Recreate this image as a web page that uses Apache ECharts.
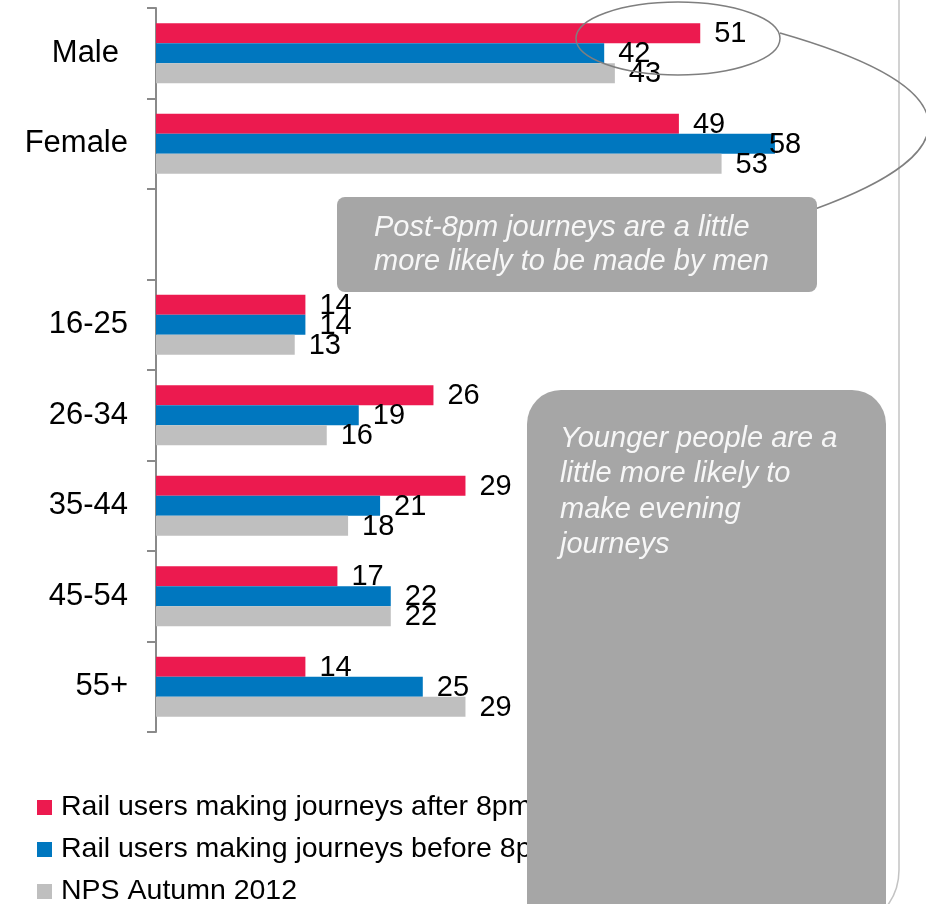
<!DOCTYPE html>
<html>
<head>
<meta charset="utf-8">
<script src="https://cdn.jsdelivr.net/npm/echarts@6/dist/echarts.min.js"></script>
<style>
  html, body { margin: 0; padding: 0; background: #ffffff; }
  #chart { width: 926px; height: 904px; }
</style>
</head>
<body>
<div id="chart"></div>
<script>
// Groups shown on the category axis (blank slot separates gender from age bands)
const categories = ['Male', 'Female', '', '16-25', '26-34', '35-44', '45-54', '55+'];

// Share of respondents (%) per group
const after8pm  = [51, 49, null, 14, 26, 29, 17, 14];
const before8pm = [42, 58, null, 14, 19, 21, 22, 25];
const npsAutumn = [43, 53, null, 13, 16, 18, 22, 29];

const seriesNames = [
  'Rail users making journeys after 8pm',
  'Rail users making journeys before 8pm',
  'NPS Autumn 2012'
];
const seriesColors = ['#EC1A4F', '#0077BF', '#BFBFBF'];

const FONT = 'Liberation Sans, Arial, Helvetica, sans-serif';

function labelCfg() {
  return {
    show: true,
    position: 'right',
    distance: 14,
    offset: [0, 1],
    color: '#000000',
    fontFamily: FONT,
    fontSize: 29
  };
}

function buildData(values, nudges) {
  return values.map((v, i) => {
    if (v === null) return null;
    const item = { value: v };
    if (nudges && nudges[i]) item.label = { offset: nudges[i] };
    return item;
  });
}

const chart = echarts.init(document.getElementById('chart'), null, { renderer: 'canvas' });

const option = {
  animation: false,
  backgroundColor: '#ffffff',
  grid: { left: 156, top: 8, width: 747, height: 724, containLabel: false },
  xAxis: {
    type: 'value',
    min: 0,
    max: 70,
    show: false
  },
  yAxis: {
    type: 'category',
    inverse: true,
    data: categories,
    axisLine: { show: true, lineStyle: { color: '#8A8A8A', width: 2 } },
    axisTick: { show: true, length: 9, lineStyle: { color: '#8A8A8A', width: 2 } },
    splitLine: { show: false },
    axisLabel: {
      margin: 28,
      color: '#000000',
      fontFamily: FONT,
      fontSize: 31,
      formatter: v => (v === 'Male' ? '{m|Male}' : v),
      rich: {
        m: { fontFamily: FONT, fontSize: 31, color: '#000000', padding: [0, 9, 0, 0] }
      }
    }
  },
  legend: {
    orient: 'vertical',
    left: 37,
    top: 793,
    height: 200,
    padding: 0,
    itemWidth: 15,
    itemHeight: 15,
    itemGap: 13,
    icon: 'rect',
    selectedMode: false,
    textStyle: { color: '#000000', fontFamily: FONT, fontSize: 28.5, padding: [0, 0, 0, 4] },
    data: seriesNames
  },
  series: [
    {
      name: seriesNames[0],
      type: 'bar',
      barWidth: 20,
      barGap: '0%',
      itemStyle: { color: seriesColors[0] },
      label: labelCfg(),
      data: buildData(after8pm)
    },
    {
      name: seriesNames[1],
      type: 'bar',
      barWidth: 20,
      barGap: '0%',
      itemStyle: { color: seriesColors[1] },
      label: labelCfg(),
      data: buildData(before8pm, { 1: [-20, 1] })
    },
    {
      name: seriesNames[2],
      type: 'bar',
      barWidth: 20,
      barGap: '0%',
      itemStyle: { color: seriesColors[2] },
      label: labelCfg(),
      data: buildData(npsAutumn)
    }
  ],
  graphic: [
    // slide frame edge with rounded lower corner
    {
      type: 'rect',
      z: 50,
      silent: true,
      shape: { x: -300, y: -100, width: 1199, height: 1030, r: 60 },
      style: { fill: 'none', stroke: '#C3C3C3', lineWidth: 1.5 }
    },
    // highlight ring around the male figures
    {
      type: 'ellipse',
      z: 60,
      silent: true,
      shape: { cx: 678, cy: 38.5, rx: 102, ry: 36.5 },
      style: { fill: 'none', stroke: '#7F7F7F', lineWidth: 1.5 }
    },
    // connector from ring to the callout
    {
      type: 'bezierCurve',
      z: 60,
      silent: true,
      shape: { x1: 780, y1: 33, cpx1: 972, cpy1: 88, cpx2: 972, cpy2: 152, x2: 815, y2: 209 },
      style: { fill: 'none', stroke: '#7F7F7F', lineWidth: 1.5 }
    },
    // callout: gender
    {
      type: 'rect',
      z: 70,
      silent: true,
      shape: { x: 337, y: 197, width: 480, height: 95, r: 8 },
      style: { fill: '#A6A6A6' }
    },
    {
      type: 'text',
      z: 71,
      silent: true,
      left: 374,
      top: 211,
      style: {
        text: 'Post-8pm journeys are a little\nmore likely to be made by men',
        fill: '#F7F7F7',
        fontFamily: FONT,
        fontStyle: 'italic',
        fontSize: 29,
        lineHeight: 34
      }
    },
    // callout: age
    {
      type: 'rect',
      z: 70,
      silent: true,
      shape: { x: 527, y: 390, width: 359, height: 560, r: 34 },
      style: { fill: '#A6A6A6' }
    },
    {
      type: 'text',
      z: 71,
      silent: true,
      left: 560,
      top: 421,
      style: {
        text: 'Younger people are a\nlittle more likely to\nmake evening\njourneys',
        fill: '#F7F7F7',
        fontFamily: FONT,
        fontStyle: 'italic',
        fontSize: 29,
        lineHeight: 35.5
      }
    }
  ]
};

chart.setOption(option);
</script>
</body>
</html>
